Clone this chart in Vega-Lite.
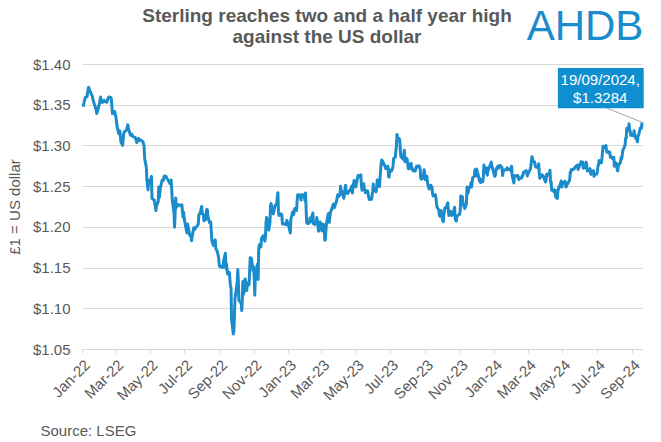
{
"$schema":"https://vega.github.io/schema/vega-lite/v6.json",
"width":560,"height":285,
"autosize":{"type":"none"},
"padding":{"left":82,"top":64,"right":19,"bottom":93},
"background":"white",
"config":{"font":"Liberation Sans","view":{"stroke":null},"axisX":{"labelOverlap":false,"labelBound":false,"labelFlush":false}},
"resolve":{"axis":{"x":"independent","y":"independent"}},
"layer":[
{"data":{"values":[
{"d":"2022-01-03","v":1.3475},{"d":"2022-01-05","v":1.354},{"d":"2022-01-07","v":1.359},{"d":"2022-01-10","v":1.36},{"d":"2022-01-12","v":1.37},{"d":"2022-01-13","v":1.3714},{"d":"2022-01-14","v":1.368},{"d":"2022-01-17","v":1.364},{"d":"2022-01-19","v":1.361},{"d":"2022-01-21","v":1.355},{"d":"2022-01-24","v":1.348},{"d":"2022-01-26","v":1.344},{"d":"2022-01-27","v":1.3393},{"d":"2022-01-28","v":1.341},
{"d":"2022-02-01","v":1.352},{"d":"2022-02-03","v":1.3595},{"d":"2022-02-04","v":1.353},{"d":"2022-02-07","v":1.353},{"d":"2022-02-09","v":1.3555},{"d":"2022-02-10","v":1.354},{"d":"2022-02-14","v":1.353},{"d":"2022-02-16","v":1.3575},{"d":"2022-02-18","v":1.3595},{"d":"2022-02-21","v":1.359},{"d":"2022-02-22","v":1.3565},{"d":"2022-02-24","v":1.339},{"d":"2022-02-25","v":1.341},{"d":"2022-02-28","v":1.3415},
{"d":"2022-03-02","v":1.335},{"d":"2022-03-04","v":1.324},{"d":"2022-03-07","v":1.3145},{"d":"2022-03-09","v":1.318},{"d":"2022-03-11","v":1.304},{"d":"2022-03-14","v":1.3},{"d":"2022-03-16","v":1.315},{"d":"2022-03-18","v":1.3175},{"d":"2022-03-21","v":1.319},{"d":"2022-03-23","v":1.3255},{"d":"2022-03-25","v":1.3185},{"d":"2022-03-28","v":1.3125},{"d":"2022-03-30","v":1.314},
{"d":"2022-04-01","v":1.311},{"d":"2022-04-05","v":1.31},{"d":"2022-04-07","v":1.3065},{"d":"2022-04-08","v":1.3035},{"d":"2022-04-11","v":1.3085},{"d":"2022-04-13","v":1.306},{"d":"2022-04-14","v":1.307},{"d":"2022-04-19","v":1.3045},{"d":"2022-04-20","v":1.302},{"d":"2022-04-21","v":1.299},{"d":"2022-04-22","v":1.284},{"d":"2022-04-25","v":1.273},{"d":"2022-04-26","v":1.257},{"d":"2022-04-28","v":1.2455},{"d":"2022-04-29","v":1.257},
{"d":"2022-05-02","v":1.254},{"d":"2022-05-04","v":1.262},{"d":"2022-05-05","v":1.235},{"d":"2022-05-06","v":1.234},{"d":"2022-05-09","v":1.233},{"d":"2022-05-11","v":1.2245},{"d":"2022-05-12","v":1.22},{"d":"2022-05-13","v":1.226},{"d":"2022-05-16","v":1.231},{"d":"2022-05-17","v":1.249},{"d":"2022-05-18","v":1.236},{"d":"2022-05-20","v":1.2485},{"d":"2022-05-23","v":1.2575},{"d":"2022-05-25","v":1.257},{"d":"2022-05-27","v":1.2625},{"d":"2022-05-30","v":1.262},{"d":"2022-05-31","v":1.26},
{"d":"2022-06-02","v":1.258},{"d":"2022-06-06","v":1.253},{"d":"2022-06-08","v":1.2575},{"d":"2022-06-10","v":1.232},{"d":"2022-06-13","v":1.217},{"d":"2022-06-14","v":1.1995},{"d":"2022-06-16","v":1.2355},{"d":"2022-06-17","v":1.224},{"d":"2022-06-20","v":1.227},{"d":"2022-06-22","v":1.227},{"d":"2022-06-24","v":1.226},{"d":"2022-06-27","v":1.227},{"d":"2022-06-29","v":1.212},{"d":"2022-06-30","v":1.218},
{"d":"2022-07-01","v":1.2105},{"d":"2022-07-05","v":1.1955},{"d":"2022-07-06","v":1.1925},{"d":"2022-07-07","v":1.2035},{"d":"2022-07-11","v":1.1895},{"d":"2022-07-13","v":1.1895},{"d":"2022-07-14","v":1.183},{"d":"2022-07-15","v":1.1875},{"d":"2022-07-18","v":1.199},{"d":"2022-07-20","v":1.197},{"d":"2022-07-21","v":1.199},{"d":"2022-07-25","v":1.202},{"d":"2022-07-26","v":1.2035},{"d":"2022-07-27","v":1.215},{"d":"2022-07-29","v":1.216},
{"d":"2022-08-01","v":1.225},{"d":"2022-08-02","v":1.2165},{"d":"2022-08-04","v":1.215},{"d":"2022-08-05","v":1.2075},{"d":"2022-08-08","v":1.209},{"d":"2022-08-10","v":1.2215},{"d":"2022-08-11","v":1.221},{"d":"2022-08-12","v":1.213},{"d":"2022-08-15","v":1.205},{"d":"2022-08-17","v":1.206},{"d":"2022-08-19","v":1.183},{"d":"2022-08-22","v":1.177},{"d":"2022-08-24","v":1.183},{"d":"2022-08-25","v":1.184},{"d":"2022-08-26","v":1.1735},{"d":"2022-08-29","v":1.169},{"d":"2022-08-31","v":1.162},
{"d":"2022-09-01","v":1.1545},{"d":"2022-09-02","v":1.151},{"d":"2022-09-05","v":1.1515},{"d":"2022-09-07","v":1.15},{"d":"2022-09-08","v":1.151},{"d":"2022-09-09","v":1.159},{"d":"2022-09-12","v":1.1675},{"d":"2022-09-13","v":1.149},{"d":"2022-09-14","v":1.1545},{"d":"2022-09-15","v":1.147},{"d":"2022-09-16","v":1.142},{"d":"2022-09-19","v":1.144},{"d":"2022-09-21","v":1.127},{"d":"2022-09-22","v":1.1255},{"d":"2022-09-23","v":1.0855},{"d":"2022-09-26","v":1.0685},{"d":"2022-09-27","v":1.073},{"d":"2022-09-28","v":1.089},{"d":"2022-09-29","v":1.112},{"d":"2022-09-30","v":1.1165},
{"d":"2022-10-03","v":1.1325},{"d":"2022-10-04","v":1.1475},{"d":"2022-10-05","v":1.132},{"d":"2022-10-06","v":1.1095},{"d":"2022-10-07","v":1.109},{"d":"2022-10-10","v":1.106},{"d":"2022-10-11","v":1.097},{"d":"2022-10-12","v":1.11},{"d":"2022-10-13","v":1.133},{"d":"2022-10-14","v":1.117},{"d":"2022-10-17","v":1.136},{"d":"2022-10-18","v":1.132},{"d":"2022-10-19","v":1.1215},{"d":"2022-10-20","v":1.1225},{"d":"2022-10-21","v":1.131},{"d":"2022-10-24","v":1.129},{"d":"2022-10-25","v":1.147},{"d":"2022-10-26","v":1.162},{"d":"2022-10-27","v":1.158},{"d":"2022-10-28","v":1.1615},{"d":"2022-10-31","v":1.1465},
{"d":"2022-11-01","v":1.151},{"d":"2022-11-02","v":1.1385},{"d":"2022-11-03","v":1.116},{"d":"2022-11-04","v":1.1375},{"d":"2022-11-07","v":1.1515},{"d":"2022-11-08","v":1.1545},{"d":"2022-11-09","v":1.1355},{"d":"2022-11-10","v":1.171},{"d":"2022-11-11","v":1.178},{"d":"2022-11-14","v":1.1755},{"d":"2022-11-15","v":1.186},{"d":"2022-11-16","v":1.187},{"d":"2022-11-17","v":1.186},{"d":"2022-11-18","v":1.189},{"d":"2022-11-21","v":1.1825},{"d":"2022-11-22","v":1.1885},{"d":"2022-11-23","v":1.2055},{"d":"2022-11-24","v":1.2115},{"d":"2022-11-25","v":1.2095},{"d":"2022-11-28","v":1.196},{"d":"2022-11-30","v":1.2055},
{"d":"2022-12-01","v":1.2265},{"d":"2022-12-02","v":1.2285},{"d":"2022-12-05","v":1.217},{"d":"2022-12-06","v":1.216},{"d":"2022-12-07","v":1.22},{"d":"2022-12-09","v":1.2265},{"d":"2022-12-12","v":1.2275},{"d":"2022-12-13","v":1.237},{"d":"2022-12-14","v":1.242},{"d":"2022-12-15","v":1.219},{"d":"2022-12-16","v":1.214},{"d":"2022-12-19","v":1.216},{"d":"2022-12-21","v":1.215},{"d":"2022-12-22","v":1.2035},{"d":"2022-12-23","v":1.2045},{"d":"2022-12-28","v":1.2025},{"d":"2022-12-30","v":1.208},
{"d":"2023-01-03","v":1.199},{"d":"2023-01-05","v":1.1925},{"d":"2023-01-06","v":1.209},{"d":"2023-01-09","v":1.218},{"d":"2023-01-11","v":1.215},{"d":"2023-01-12","v":1.221},{"d":"2023-01-13","v":1.2225},{"d":"2023-01-16","v":1.22},{"d":"2023-01-17","v":1.231},{"d":"2023-01-18","v":1.239},{"d":"2023-01-19","v":1.2385},{"d":"2023-01-20","v":1.2395},{"d":"2023-01-23","v":1.2365},{"d":"2023-01-24","v":1.233},{"d":"2023-01-25","v":1.2395},{"d":"2023-01-27","v":1.2395},{"d":"2023-01-30","v":1.2365},{"d":"2023-01-31","v":1.232},
{"d":"2023-02-01","v":1.2415},{"d":"2023-02-02","v":1.2225},{"d":"2023-02-03","v":1.205},{"d":"2023-02-06","v":1.204},{"d":"2023-02-08","v":1.206},{"d":"2023-02-09","v":1.211},{"d":"2023-02-10","v":1.206},{"d":"2023-02-13","v":1.2145},{"d":"2023-02-14","v":1.217},{"d":"2023-02-15","v":1.204},{"d":"2023-02-17","v":1.203},{"d":"2023-02-20","v":1.2045},{"d":"2023-02-21","v":1.2115},{"d":"2023-02-23","v":1.2015},{"d":"2023-02-24","v":1.1945},{"d":"2023-02-27","v":1.206},{"d":"2023-02-28","v":1.2025},
{"d":"2023-03-01","v":1.2025},{"d":"2023-03-02","v":1.195},{"d":"2023-03-03","v":1.2035},{"d":"2023-03-06","v":1.2025},{"d":"2023-03-07","v":1.1835},{"d":"2023-03-08","v":1.184},{"d":"2023-03-09","v":1.195},{"d":"2023-03-10","v":1.2035},{"d":"2023-03-13","v":1.2155},{"d":"2023-03-14","v":1.2165},{"d":"2023-03-15","v":1.2055},{"d":"2023-03-16","v":1.212},{"d":"2023-03-17","v":1.2175},{"d":"2023-03-20","v":1.223},{"d":"2023-03-22","v":1.2275},{"d":"2023-03-23","v":1.228},{"d":"2023-03-24","v":1.2235},{"d":"2023-03-28","v":1.232},{"d":"2023-03-30","v":1.2395},{"d":"2023-03-31","v":1.237},
{"d":"2023-04-03","v":1.2395},{"d":"2023-04-04","v":1.25},{"d":"2023-04-05","v":1.2455},{"d":"2023-04-06","v":1.244},{"d":"2023-04-10","v":1.235},{"d":"2023-04-11","v":1.243},{"d":"2023-04-13","v":1.251},{"d":"2023-04-14","v":1.2415},{"d":"2023-04-17","v":1.241},{"d":"2023-04-18","v":1.243},{"d":"2023-04-19","v":1.244},{"d":"2023-04-21","v":1.2445},{"d":"2023-04-24","v":1.25},{"d":"2023-04-25","v":1.2415},{"d":"2023-04-26","v":1.2485},{"d":"2023-04-28","v":1.257},
{"d":"2023-05-01","v":1.249},{"d":"2023-05-03","v":1.2565},{"d":"2023-05-05","v":1.263},{"d":"2023-05-08","v":1.2615},{"d":"2023-05-10","v":1.264},{"d":"2023-05-11","v":1.2505},{"d":"2023-05-12","v":1.245},{"d":"2023-05-15","v":1.253},{"d":"2023-05-16","v":1.248},{"d":"2023-05-18","v":1.242},{"d":"2023-05-19","v":1.2445},{"d":"2023-05-22","v":1.244},{"d":"2023-05-24","v":1.236},{"d":"2023-05-25","v":1.2335},{"d":"2023-05-26","v":1.2345},{"d":"2023-05-29","v":1.234},{"d":"2023-05-30","v":1.2395},{"d":"2023-05-31","v":1.2435},
{"d":"2023-06-01","v":1.2525},{"d":"2023-06-02","v":1.245},{"d":"2023-06-05","v":1.244},{"d":"2023-06-06","v":1.243},{"d":"2023-06-07","v":1.249},{"d":"2023-06-08","v":1.2575},{"d":"2023-06-09","v":1.2575},{"d":"2023-06-12","v":1.2495},{"d":"2023-06-13","v":1.2605},{"d":"2023-06-15","v":1.2785},{"d":"2023-06-16","v":1.282},{"d":"2023-06-19","v":1.279},{"d":"2023-06-20","v":1.276},{"d":"2023-06-21","v":1.276},{"d":"2023-06-22","v":1.274},{"d":"2023-06-23","v":1.2715},{"d":"2023-06-26","v":1.272},{"d":"2023-06-27","v":1.2745},{"d":"2023-06-28","v":1.262},{"d":"2023-06-29","v":1.261},{"d":"2023-06-30","v":1.27},
{"d":"2023-07-03","v":1.2685},{"d":"2023-07-05","v":1.2715},{"d":"2023-07-06","v":1.2745},{"d":"2023-07-07","v":1.284},{"d":"2023-07-10","v":1.2855},{"d":"2023-07-11","v":1.293},{"d":"2023-07-12","v":1.3},{"d":"2023-07-13","v":1.3135},{"d":"2023-07-14","v":1.309},{"d":"2023-07-17","v":1.3085},{"d":"2023-07-18","v":1.3045},{"d":"2023-07-19","v":1.293},{"d":"2023-07-20","v":1.286},{"d":"2023-07-21","v":1.2855},{"d":"2023-07-24","v":1.283},{"d":"2023-07-25","v":1.289},{"d":"2023-07-26","v":1.294},{"d":"2023-07-27","v":1.28},{"d":"2023-07-28","v":1.285},{"d":"2023-07-31","v":1.2835},
{"d":"2023-08-01","v":1.278},{"d":"2023-08-02","v":1.2715},{"d":"2023-08-03","v":1.2715},{"d":"2023-08-04","v":1.275},{"d":"2023-08-07","v":1.278},{"d":"2023-08-08","v":1.271},{"d":"2023-08-09","v":1.272},{"d":"2023-08-10","v":1.2695},{"d":"2023-08-11","v":1.269},{"d":"2023-08-14","v":1.2685},{"d":"2023-08-15","v":1.27},{"d":"2023-08-16","v":1.2735},{"d":"2023-08-17","v":1.2745},{"d":"2023-08-18","v":1.2735},{"d":"2023-08-21","v":1.275},{"d":"2023-08-22","v":1.2735},{"d":"2023-08-23","v":1.271},{"d":"2023-08-24","v":1.26},{"d":"2023-08-25","v":1.2585},{"d":"2023-08-28","v":1.26},{"d":"2023-08-29","v":1.265},{"d":"2023-08-30","v":1.27},{"d":"2023-08-31","v":1.267},
{"d":"2023-09-01","v":1.258},{"d":"2023-09-04","v":1.262},{"d":"2023-09-05","v":1.2545},{"d":"2023-09-06","v":1.251},{"d":"2023-09-07","v":1.2485},{"d":"2023-09-08","v":1.2465},{"d":"2023-09-11","v":1.251},{"d":"2023-09-12","v":1.249},{"d":"2023-09-13","v":1.249},{"d":"2023-09-14","v":1.2405},{"d":"2023-09-15","v":1.238},{"d":"2023-09-18","v":1.2385},{"d":"2023-09-19","v":1.2395},{"d":"2023-09-20","v":1.235},{"d":"2023-09-21","v":1.229},{"d":"2023-09-22","v":1.224},{"d":"2023-09-25","v":1.221},{"d":"2023-09-26","v":1.215},{"d":"2023-09-27","v":1.213},{"d":"2023-09-28","v":1.2195},{"d":"2023-09-29","v":1.22},
{"d":"2023-10-02","v":1.2075},{"d":"2023-10-03","v":1.2065},{"d":"2023-10-04","v":1.2155},{"d":"2023-10-05","v":1.2195},{"d":"2023-10-06","v":1.2235},{"d":"2023-10-09","v":1.224},{"d":"2023-10-10","v":1.228},{"d":"2023-10-11","v":1.2295},{"d":"2023-10-12","v":1.219},{"d":"2023-10-13","v":1.214},{"d":"2023-10-16","v":1.219},{"d":"2023-10-17","v":1.2185},{"d":"2023-10-18","v":1.214},{"d":"2023-10-19","v":1.217},{"d":"2023-10-20","v":1.215},{"d":"2023-10-23","v":1.224},{"d":"2023-10-24","v":1.211},{"d":"2023-10-25","v":1.208},{"d":"2023-10-26","v":1.207},{"d":"2023-10-27","v":1.2125},{"d":"2023-10-30","v":1.215},{"d":"2023-10-31","v":1.215},
{"d":"2023-11-01","v":1.2155},{"d":"2023-11-02","v":1.22},{"d":"2023-11-03","v":1.238},{"d":"2023-11-06","v":1.237},{"d":"2023-11-07","v":1.227},{"d":"2023-11-08","v":1.228},{"d":"2023-11-09","v":1.2245},{"d":"2023-11-10","v":1.2225},{"d":"2023-11-13","v":1.2285},{"d":"2023-11-14","v":1.249},{"d":"2023-11-15","v":1.241},{"d":"2023-11-16","v":1.2415},{"d":"2023-11-17","v":1.246},{"d":"2023-11-20","v":1.25},{"d":"2023-11-21","v":1.254},{"d":"2023-11-22","v":1.249},{"d":"2023-11-23","v":1.254},{"d":"2023-11-24","v":1.2605},{"d":"2023-11-27","v":1.262},{"d":"2023-11-28","v":1.27},{"d":"2023-11-29","v":1.27},{"d":"2023-11-30","v":1.2625},
{"d":"2023-12-01","v":1.271},{"d":"2023-12-04","v":1.2635},{"d":"2023-12-05","v":1.26},{"d":"2023-12-06","v":1.2565},{"d":"2023-12-07","v":1.259},{"d":"2023-12-08","v":1.2545},{"d":"2023-12-11","v":1.256},{"d":"2023-12-12","v":1.2555},{"d":"2023-12-13","v":1.262},{"d":"2023-12-14","v":1.276},{"d":"2023-12-15","v":1.2685},{"d":"2023-12-18","v":1.2665},{"d":"2023-12-19","v":1.2725},{"d":"2023-12-20","v":1.2635},{"d":"2023-12-21","v":1.269},{"d":"2023-12-22","v":1.27},{"d":"2023-12-27","v":1.2795},{"d":"2023-12-28","v":1.2735},{"d":"2023-12-29","v":1.273},
{"d":"2024-01-02","v":1.262},{"d":"2024-01-03","v":1.263},{"d":"2024-01-04","v":1.267},{"d":"2024-01-05","v":1.2715},{"d":"2024-01-08","v":1.2745},{"d":"2024-01-09","v":1.272},{"d":"2024-01-10","v":1.275},{"d":"2024-01-11","v":1.275},{"d":"2024-01-12","v":1.2755},{"d":"2024-01-15","v":1.273},{"d":"2024-01-16","v":1.263},{"d":"2024-01-17","v":1.2675},{"d":"2024-01-18","v":1.2695},{"d":"2024-01-19","v":1.27},{"d":"2024-01-22","v":1.2705},{"d":"2024-01-23","v":1.27},{"d":"2024-01-24","v":1.2725},{"d":"2024-01-25","v":1.2705},{"d":"2024-01-26","v":1.2705},{"d":"2024-01-29","v":1.271},{"d":"2024-01-30","v":1.27},{"d":"2024-01-31","v":1.2685},
{"d":"2024-02-01","v":1.2745},{"d":"2024-02-02","v":1.263},{"d":"2024-02-05","v":1.254},{"d":"2024-02-06","v":1.262},{"d":"2024-02-07","v":1.263},{"d":"2024-02-08","v":1.2625},{"d":"2024-02-09","v":1.2625},{"d":"2024-02-12","v":1.263},{"d":"2024-02-13","v":1.259},{"d":"2024-02-14","v":1.258},{"d":"2024-02-15","v":1.26},{"d":"2024-02-16","v":1.26},{"d":"2024-02-19","v":1.26},{"d":"2024-02-20","v":1.263},{"d":"2024-02-21","v":1.263},{"d":"2024-02-22","v":1.267},{"d":"2024-02-23","v":1.267},{"d":"2024-02-26","v":1.2685},{"d":"2024-02-27","v":1.269},{"d":"2024-02-28","v":1.266},{"d":"2024-02-29","v":1.2625},
{"d":"2024-03-01","v":1.265},{"d":"2024-03-04","v":1.269},{"d":"2024-03-05","v":1.2705},{"d":"2024-03-06","v":1.2735},{"d":"2024-03-07","v":1.2805},{"d":"2024-03-08","v":1.286},{"d":"2024-03-11","v":1.28},{"d":"2024-03-12","v":1.2795},{"d":"2024-03-13","v":1.2795},{"d":"2024-03-14","v":1.275},{"d":"2024-03-15","v":1.2735},{"d":"2024-03-18","v":1.2735},{"d":"2024-03-19","v":1.272},{"d":"2024-03-20","v":1.2775},{"d":"2024-03-21","v":1.266},{"d":"2024-03-22","v":1.2595},{"d":"2024-03-25","v":1.264},{"d":"2024-03-26","v":1.264},{"d":"2024-03-27","v":1.2625},{"d":"2024-03-28","v":1.2625},
{"d":"2024-04-01","v":1.255},{"d":"2024-04-02","v":1.2565},{"d":"2024-04-03","v":1.2645},{"d":"2024-04-04","v":1.2645},{"d":"2024-04-05","v":1.2635},{"d":"2024-04-08","v":1.266},{"d":"2024-04-09","v":1.2695},{"d":"2024-04-10","v":1.2545},{"d":"2024-04-11","v":1.2555},{"d":"2024-04-12","v":1.245},{"d":"2024-04-15","v":1.245},{"d":"2024-04-16","v":1.243},{"d":"2024-04-17","v":1.2455},{"d":"2024-04-18","v":1.244},{"d":"2024-04-19","v":1.237},{"d":"2024-04-22","v":1.235},{"d":"2024-04-23","v":1.2455},{"d":"2024-04-24","v":1.246},{"d":"2024-04-25","v":1.2495},{"d":"2024-04-26","v":1.249},{"d":"2024-04-29","v":1.2565},{"d":"2024-04-30","v":1.249},
{"d":"2024-05-01","v":1.2535},{"d":"2024-05-02","v":1.2535},{"d":"2024-05-03","v":1.2545},{"d":"2024-05-06","v":1.256},{"d":"2024-05-07","v":1.249},{"d":"2024-05-08","v":1.2495},{"d":"2024-05-09","v":1.252},{"d":"2024-05-10","v":1.2525},{"d":"2024-05-13","v":1.256},{"d":"2024-05-14","v":1.2585},{"d":"2024-05-15","v":1.2675},{"d":"2024-05-16","v":1.267},{"d":"2024-05-17","v":1.2705},{"d":"2024-05-20","v":1.2705},{"d":"2024-05-21","v":1.271},{"d":"2024-05-22","v":1.272},{"d":"2024-05-23","v":1.272},{"d":"2024-05-24","v":1.274},{"d":"2024-05-28","v":1.276},{"d":"2024-05-29","v":1.2705},{"d":"2024-05-30","v":1.2735},{"d":"2024-05-31","v":1.274},
{"d":"2024-06-03","v":1.28},{"d":"2024-06-04","v":1.2775},{"d":"2024-06-05","v":1.279},{"d":"2024-06-06","v":1.2795},{"d":"2024-06-07","v":1.272},{"d":"2024-06-10","v":1.273},{"d":"2024-06-11","v":1.274},{"d":"2024-06-12","v":1.2795},{"d":"2024-06-13","v":1.277},{"d":"2024-06-14","v":1.2685},{"d":"2024-06-17","v":1.2705},{"d":"2024-06-18","v":1.2705},{"d":"2024-06-19","v":1.2715},{"d":"2024-06-20","v":1.2655},{"d":"2024-06-21","v":1.2645},{"d":"2024-06-24","v":1.2685},{"d":"2024-06-25","v":1.269},{"d":"2024-06-26","v":1.262},{"d":"2024-06-27","v":1.264},{"d":"2024-06-28","v":1.2645},
{"d":"2024-07-01","v":1.265},{"d":"2024-07-02","v":1.2685},{"d":"2024-07-03","v":1.275},{"d":"2024-07-04","v":1.276},{"d":"2024-07-05","v":1.2815},{"d":"2024-07-08","v":1.2805},{"d":"2024-07-09","v":1.2785},{"d":"2024-07-10","v":1.284},{"d":"2024-07-11","v":1.2915},{"d":"2024-07-12","v":1.299},{"d":"2024-07-15","v":1.297},{"d":"2024-07-16","v":1.2975},{"d":"2024-07-17","v":1.3},{"d":"2024-07-18","v":1.295},{"d":"2024-07-19","v":1.2915},{"d":"2024-07-22","v":1.2925},{"d":"2024-07-23","v":1.2905},{"d":"2024-07-24","v":1.2915},{"d":"2024-07-25","v":1.2855},{"d":"2024-07-26","v":1.2865},{"d":"2024-07-29","v":1.284},{"d":"2024-07-30","v":1.2835},{"d":"2024-07-31","v":1.2855},
{"d":"2024-08-01","v":1.2745},{"d":"2024-08-02","v":1.2795},{"d":"2024-08-05","v":1.2775},{"d":"2024-08-06","v":1.2705},{"d":"2024-08-07","v":1.2685},{"d":"2024-08-08","v":1.274},{"d":"2024-08-09","v":1.276},{"d":"2024-08-12","v":1.2795},{"d":"2024-08-13","v":1.2855},{"d":"2024-08-14","v":1.2835},{"d":"2024-08-15","v":1.2875},{"d":"2024-08-16","v":1.294},{"d":"2024-08-19","v":1.298},{"d":"2024-08-20","v":1.301},{"d":"2024-08-21","v":1.3085},{"d":"2024-08-22","v":1.309},{"d":"2024-08-23","v":1.321},{"d":"2024-08-26","v":1.3185},{"d":"2024-08-27","v":1.3265},{"d":"2024-08-28","v":1.319},{"d":"2024-08-29","v":1.318},{"d":"2024-08-30","v":1.3125},
{"d":"2024-09-02","v":1.313},{"d":"2024-09-03","v":1.312},{"d":"2024-09-04","v":1.314},{"d":"2024-09-05","v":1.318},{"d":"2024-09-06","v":1.3125},{"d":"2024-09-09","v":1.3075},{"d":"2024-09-10","v":1.308},{"d":"2024-09-11","v":1.3045},{"d":"2024-09-12","v":1.3125},{"d":"2024-09-13","v":1.3125},{"d":"2024-09-16","v":1.3215},{"d":"2024-09-17","v":1.321},{"d":"2024-09-18","v":1.321},{"d":"2024-09-19","v":1.3284}
]},
"mark":{"type":"line","color":"#1a8ccc","strokeWidth":3,"strokeJoin":"round"},
"encoding":{
"x":{"field":"d","type":"temporal","scale":{"type":"utc","domain":[{"year":2022,"month":1,"date":1,"utc":true},{"year":2024,"month":9,"date":19,"utc":true}]},
"axis":{"values":[{"year":2022,"month":1,"date":1,"utc":true},{"year":2022,"month":3,"date":1,"utc":true},{"year":2022,"month":5,"date":1,"utc":true},{"year":2022,"month":7,"date":1,"utc":true},{"year":2022,"month":9,"date":1,"utc":true},{"year":2022,"month":11,"date":1,"utc":true},{"year":2023,"month":1,"date":1,"utc":true},{"year":2023,"month":3,"date":1,"utc":true},{"year":2023,"month":5,"date":1,"utc":true},{"year":2023,"month":7,"date":1,"utc":true},{"year":2023,"month":9,"date":1,"utc":true},{"year":2023,"month":11,"date":1,"utc":true},{"year":2024,"month":1,"date":1,"utc":true},{"year":2024,"month":3,"date":1,"utc":true},{"year":2024,"month":5,"date":1,"utc":true},{"year":2024,"month":7,"date":1,"utc":true},{"year":2024,"month":9,"date":1,"utc":true}],
"labelExpr":"utcFormat(datum.value,'%b-%y')","labelAngle":-45,"labelOverlap":false,"labelFontSize":15,"labelColor":"#595959","labelPadding":4,"labelFont":"Liberation Sans","tickSize":4,"tickColor":"#d9d9d9","domainColor":"#d9d9d9","grid":false,
"title":"Source: LSEG","titleAnchor":"start","titleAlign":"left","titleX":-42,"titleY":86,"titleBaseline":"alphabetic","titleFontSize":15,"titleFontWeight":"normal","titleColor":"#595959","titleFont":"Liberation Sans"}},
"y":{"field":"v","type":"quantitative","scale":{"domain":[1.05,1.4],"zero":false,"nice":false},
"axis":{"values":[1.05,1.1,1.15,1.2,1.25,1.3,1.35,1.4],"labelExpr":"'$' + format(datum.value,'.2f')","labelFontSize":15,"labelColor":"#595959","labelPadding":12,"labelFont":"Liberation Sans","ticks":false,"domain":false,"gridColor":"#d9d9d9","title":"£1 = US dollar","titleFontSize":15,"titleFontWeight":"normal","titleColor":"#595959","titleFont":"Liberation Sans","titlePadding":10}}
}},
{"data":{"values":[{"d":"2024-09-19","v":1.3284}]},
"mark":{"type":"rule","color":"#a6a6a6","strokeWidth":1},
"encoding":{"x":{"datum":{"year":2024,"month":7,"date":19,"utc":true},"type":"temporal","axis":null},"x2":{"datum":{"year":2024,"month":9,"date":19,"utc":true}},"y":{"datum":1.3458,"type":"quantitative","axis":null},"y2":{"datum":1.3284}}},
{"data":{"values":[{"d":"2024-09-19","v":1.3284}]},
"mark":{"type":"rect","color":"#0f8fd0"},
"encoding":{"x":{"datum":{"year":2024,"month":4,"date":23,"utc":true},"type":"temporal","axis":null},"x2":{"datum":{"year":2024,"month":9,"date":22,"utc":true}},"y":{"datum":1.3951,"type":"quantitative","axis":null},"y2":{"datum":1.3458}}},
{"data":{"values":[{"d":"2024-09-19","v":1.3284}]},
"mark":{"type":"text","color":"white","fontSize":15,"align":"center","baseline":"middle","lineHeight":18,"font":"Liberation Sans"},
"encoding":{"x":{"datum":{"year":2024,"month":7,"date":7,"utc":true},"type":"temporal","axis":null},"y":{"datum":1.3803,"type":"quantitative","axis":null},"text":{"value":["19/09/2024,","$1.3284"]}}},
{"data":{"values":[{"d":"2024-09-19","v":1.3284}]},
"mark":{"type":"text","color":"#1a8ccc","fontSize":42,"align":"center","baseline":"alphabetic","font":"Liberation Sans","letterSpacing":-1},
"encoding":{"x":{"datum":{"year":2024,"month":6,"date":10,"utc":true},"type":"temporal","axis":null},"y":{"datum":1.4296,"type":"quantitative","axis":null},"text":{"value":"AHDB"}}},
{"data":{"values":[{"d":"2024-09-19","v":1.3284}]},
"mark":{"type":"text","color":"#595959","fontSize":19,"fontWeight":"bold","align":"center","baseline":"alphabetic","lineHeight":21,"font":"Liberation Sans"},
"encoding":{"x":{"datum":{"year":2023,"month":3,"date":11,"utc":true},"type":"temporal","axis":null},"y":{"datum":1.4521,"type":"quantitative","axis":null},"text":{"value":["Sterling reaches two and a half year high","against the US dollar"]}}}
]
}
